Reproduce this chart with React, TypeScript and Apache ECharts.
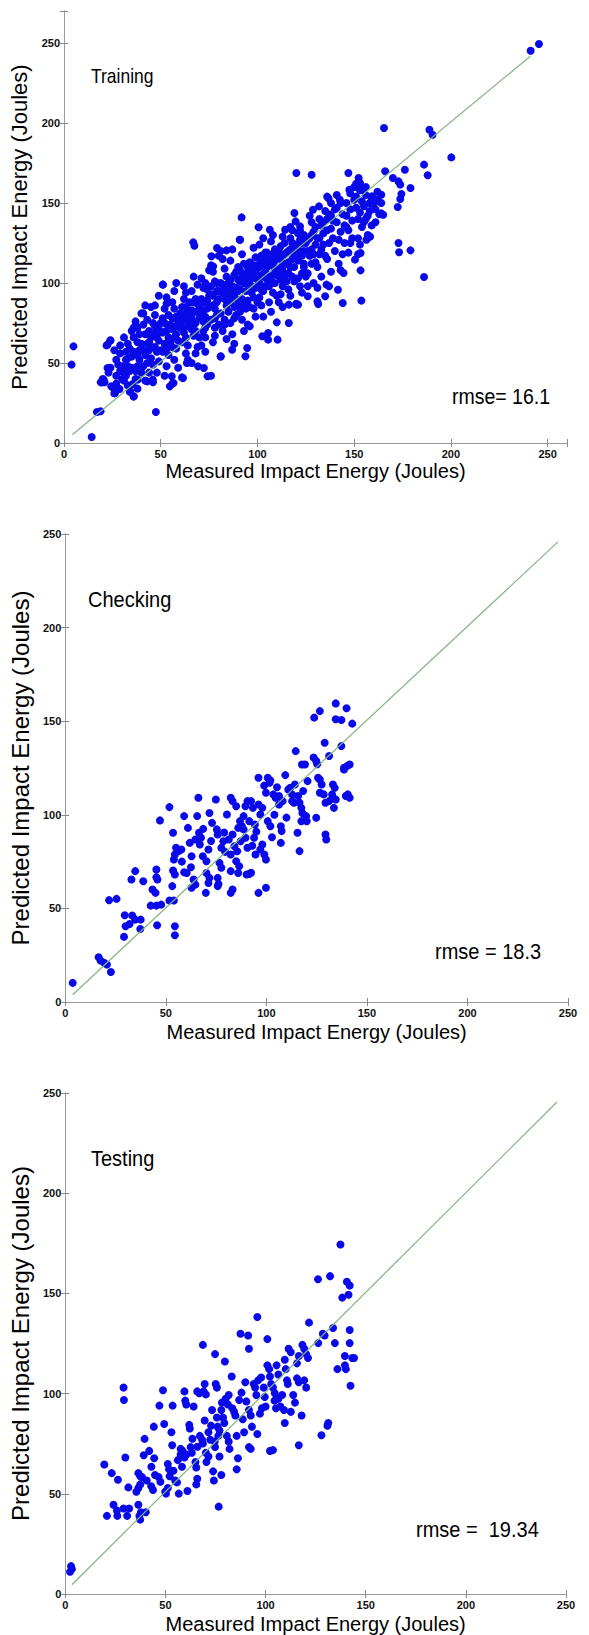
import React, { useEffect, useRef } from "react";
import * as echarts from "echarts";

const tickValues = [0, 50, 100, 150, 200, 250];
const panelNames = ["Training", "Checking", "Testing"];
const rmseLabels = ["rmse= 16.1", "rmse = 18.3", "rmse = \u00a019.34"];
const xTitle = "Measured Impact Energy (Joules)";
const yTitle = "Predicted Impact Energy (Joules)";
const axisMaxX = [260, 250, 250];
const axisMaxY = [270, 250, 250];

const trainingLine = [[4.3, 5.2], [241, 241.7]];
const checkingLine = [[3.7, 3.9], [245, 245.8]];
const testingLine = [[3.3, 4.6], [245.5, 245.5]];

const trainingPoints = [
  [245.5, 249.4], [241.2, 245.2], [165.4, 196.9], [188.9, 195.8], [190.5, 192.7], [200.2, 178.5],
  [186.1, 174], [188, 167.3], [176.2, 170.8], [166, 169.8], [120.1, 168.8], [128, 167.7], [147, 168.8],
  [152.3, 165.6], [153, 162.5], [170, 165.6], [172.9, 163.5], [173.8, 161.5], [179.1, 159.4],
  [174.4, 155.6], [173.8, 152.5], [172.5, 147.5], [164, 155.2], [165, 142.7], [164, 143.5],
  [172.9, 125], [173.2, 119.2], [179.1, 120.4], [186.1, 103.8], [153.3, 107.9], [153.7, 89],
  [144.1, 87.5], [135, 91.7], [131, 88.5], [131.4, 86.9], [126, 91.7], [116.2, 86.5], [120.1, 86.5],
  [121, 86.5], [110, 75.4], [110.4, 64.6], [105.5, 68.8], [105.5, 64.6], [91.8, 141], [100.6, 134.8],
  [66.8, 125.4], [67.4, 123.3], [51.2, 99], [79.1, 121.9], [84, 120.4], [76.2, 116.7], [77.1, 110.4],
  [90.8, 127], [119.1, 143.8], [119.7, 138.5], [3.9, 49], [4.9, 60.4], [14.3, 3.8], [17, 19.4],
  [18.9, 19.8], [47.5, 19.4], [24, 64.2], [22.5, 61.5], [20.5, 39.6], [19.5, 37.9], [22.5, 46.9],
  [24.4, 35.4], [28.7, 33.8], [26.4, 31.3], [34.2, 32.3], [36.1, 29.2], [35.5, 36.9], [38.1, 39.6],
  [43, 38.5], [45.9, 39.6], [69.3, 47.9], [74.2, 41.7], [55.7, 41.7], [61.5, 40.6], [54.7, 35.4],
  [56.6, 37.5], [81, 54.2], [93.8, 54.2], [94.7, 59.4], [106.4, 133.3], [114.3, 133.3], [122, 135.4],
  [128.7, 145.8], [131.8, 147.9], [136.7, 153], [142.6, 152], [147.5, 158.3], [154.3, 158.3],
  [159.2, 154.2], [161.1, 151], [135.7, 99], [141.6, 95.8], [144.5, 106.3], [150.4, 114.6],
  [153.3, 118.8], [156.3, 127], [158.2, 129], [116.2, 75], [102.5, 66.7], [86.9, 58.3], [63.5, 50],
  [72.3, 46.9],
  [21, 38], [23, 44], [24, 64], [22, 61], [20, 40], [19, 38], [25, 35], [24, 47],
  [26, 31], [27, 42], [28, 34], [29, 45], [27, 52], [26, 58], [29, 61], [28, 49], [30, 40], [27, 37], [29, 56],
  [31, 44], [32, 52], [33, 36], [34, 32], [31, 66], [32, 57], [33, 48], [34, 59], [35, 70], [33, 62], [31, 39],
  [34, 45], [35, 54], [32, 42],
  [36, 29], [36, 72], [37, 45], [38, 63], [39, 52], [36, 57], [37, 40], [38, 34], [39, 68], [40, 81], [37, 76],
  [38, 48], [39, 58], [40, 44], [36, 66], [38, 72],
  [41, 81], [42, 55], [43, 62], [44, 70], [41, 48], [42, 39], [43, 50], [44, 58], [45, 66], [41, 74], [42, 86],
  [44, 44], [45, 53], [43, 77], [45, 85],
  [46, 38], [47, 60], [48, 71], [49, 51], [46, 68], [47, 80], [48, 57], [49, 64], [50, 75], [46, 49], [47, 86],
  [48, 44], [50, 58], [49, 92], [47, 73],
  [51, 99], [52, 62], [53, 70], [54, 55], [51, 78], [52, 84], [53, 48], [54, 66], [55, 74], [51, 57], [52, 42],
  [53, 91], [55, 63], [54, 80], [51, 69], [53, 87],
  [56, 37], [57, 52], [58, 68], [59, 76], [56, 88], [57, 95], [58, 59], [59, 64], [60, 81], [56, 71], [57, 84],
  [58, 100], [59, 47], [60, 72], [56, 60], [58, 79],
  [61, 41], [62, 98], [63, 66], [64, 73], [61, 85], [62, 90], [63, 56], [64, 61], [65, 80], [61, 76], [62, 69],
  [63, 94], [64, 52], [65, 88], [61, 63], [64, 83],
  [66, 50], [67, 74], [68, 82], [69, 60], [66, 95], [67, 67], [68, 90], [69, 87], [70, 78], [66, 71], [67, 104],
  [68, 56], [69, 99], [70, 66], [66, 83], [68, 75],
  [71, 61], [72, 88], [73, 79], [74, 96], [71, 103], [72, 70], [73, 66], [74, 84], [75, 92], [71, 81], [72, 97],
  [73, 57], [74, 74], [75, 108], [72, 76], [73, 100],
  [76, 42], [77, 86], [78, 72], [79, 95], [76, 111], [77, 63], [78, 101], [79, 80], [80, 90], [76, 77], [77, 107],
  [78, 67], [79, 88], [80, 117], [76, 93], [78, 84],
  [81, 54], [82, 94], [83, 77], [84, 86], [81, 100], [82, 70], [83, 109], [84, 65], [85, 92], [81, 81], [82, 115],
  [83, 74], [84, 104], [85, 82], [81, 120], [83, 97],
  [86, 75], [87, 98], [88, 85], [89, 107], [86, 114], [87, 68], [88, 92], [89, 80], [90, 102], [86, 88], [87, 121],
  [88, 62], [89, 97], [90, 110], [86, 95], [88, 78], [90, 86],
  [91, 127], [92, 90], [93, 100], [94, 84], [91, 108], [92, 77], [93, 112], [94, 95], [95, 104], [91, 82], [92, 118],
  [93, 70], [94, 106], [95, 89], [91, 96], [93, 86], [95, 74],
  [96, 99], [97, 108], [98, 91], [99, 116], [96, 85], [97, 103], [98, 122], [99, 79], [100, 111], [96, 113], [97, 94],
  [98, 104], [99, 97], [100, 88], [96, 73], [98, 84],
  [101, 100], [102, 117], [103, 95], [104, 107], [101, 124], [102, 86], [103, 112], [104, 98], [105, 119], [101, 91],
  [102, 105], [103, 79], [104, 114], [105, 102], [101, 110], [103, 128],
  [106, 98], [107, 113], [108, 105], [109, 121], [106, 88], [107, 126], [108, 94], [109, 109], [110, 116], [106, 104],
  [107, 82], [108, 118], [109, 100], [110, 92], [106, 111], [108, 130],
  [111, 106], [112, 123], [113, 98], [114, 112], [111, 117], [112, 93], [113, 129], [114, 104], [115, 119], [111, 88],
  [112, 110], [113, 85], [114, 125], [115, 101], [112, 102],
  [116, 113], [117, 128], [118, 104], [119, 118], [116, 96], [117, 121], [118, 133], [119, 110], [120, 124], [116, 106],
  [117, 92], [118, 115], [119, 101], [120, 87], [117, 135],
  [121, 114], [122, 127], [123, 106], [124, 120], [121, 131], [122, 98], [123, 117], [124, 110], [125, 125], [121, 103],
  [122, 133], [123, 94], [124, 112], [125, 104],
  [126, 120], [127, 128], [128, 112], [129, 132], [126, 106], [127, 117], [128, 138], [129, 100], [130, 124], [126, 98],
  [128, 121], [130, 113], [127, 142],
  [131, 128], [132, 118], [133, 136], [134, 124], [131, 110], [132, 140], [133, 104], [134, 131], [135, 117], [131, 97],
  [133, 121], [135, 145],
  [136, 133], [137, 125], [138, 150], [139, 139], [136, 115], [137, 143], [138, 107], [139, 128], [140, 120], [136, 154],
  [138, 134], [140, 146], [137, 98],
  [141, 138], [142, 127], [143, 150], [144, 118], [141, 147], [142, 112], [143, 132], [144, 143], [145, 125], [141, 155],
  [143, 108], [145, 136],
  [146, 142], [147, 133], [148, 156], [149, 128], [146, 150], [147, 119], [148, 146], [149, 139], [150, 152], [146, 135],
  [148, 125], [150, 160],
  [151, 147], [152, 140], [153, 158], [154, 135], [151, 154], [152, 128], [153, 144], [154, 151], [155, 138], [151, 162],
  [153, 124], [155, 148], [152, 118],
  [156, 155], [157, 142], [158, 150], [159, 136], [156, 160], [157, 130], [158, 145], [159, 153], [160, 149], [156, 140],
  [158, 129],
  [161, 146], [162, 152], [163, 143], [161, 138], [164, 150], [162, 157],
  [30, 48], [33, 53], [35, 47], [38, 55], [40, 62], [42, 68], [44, 63], [46, 75], [48, 66], [50, 70], [52, 75],
  [54, 72], [56, 78], [58, 73], [60, 77], [57, 66], [53, 59], [49, 69], [45, 60], [41, 58],
  [62, 80], [63, 85], [65, 75], [66, 78], [67, 88], [69, 82], [70, 86], [71, 90], [72, 83], [74, 89], [75, 85],
  [76, 98], [77, 92], [79, 100], [80, 95], [82, 99], [83, 90], [84, 95], [85, 100], [86, 102], [87, 91], [88, 105],
  [89, 90], [90, 95], [61, 72], [64, 77], [68, 70], [73, 72], [78, 78], [80, 74],
  [91, 101], [92, 104], [94, 100], [95, 110], [96, 106], [97, 98], [98, 111], [99, 107], [100, 102], [101, 115],
  [102, 96], [103, 104], [104, 119], [105, 110], [106, 117], [107, 101], [108, 111], [109, 114], [110, 105],
  [111, 121], [112, 115], [113, 108], [114, 118], [115, 112], [116, 120], [117, 110], [118, 125], [119, 122],
  [120, 116], [122, 120], [123, 125], [124, 130], [126, 127], [128, 130], [129, 118], [130, 135], [132, 128],
  [134, 138], [136, 140], [138, 142],
];

const checkingPoints = [
  [3.7, 10.2], [16.6, 23.9], [17.6, 22.1], [19.4, 20.9], [20.7, 20], [22.7, 16], [21.8, 54.4], [25.5, 55.1],
  [29.6, 46.3], [33.3, 46.2], [34.8, 44], [30, 40.5], [32, 41.7], [29.2, 34.9], [37.5, 44], [37.3, 39],
  [32.9, 65.4], [34.8, 69.9], [38.8, 64.5], [43.4, 60.1], [44.9, 58.3], [42.5, 51.5], [45.3, 51.5], [47.7, 52],
  [45.7, 41], [45.3, 70.8], [45.3, 66.7], [45.8, 65.4], [47.1, 97], [51.8, 104.1], [53.6, 90.4], [54.5, 78.8],
  [54, 76.1], [55.1, 82.4], [51.8, 54.2], [54, 54.2], [54.5, 40.5], [54.5, 35.7], [53.2, 61.9], [54.5, 68.1],
  [53.6, 70.2], [56.4, 80.6], [57.7, 81.5], [59.1, 99.3], [61, 93], [61.9, 85], [62.8, 77.9], [60.4, 68.9],
  [59.1, 69.3], [63.8, 65.4], [62.8, 61], [64.7, 62.7], [66.2, 109.1], [65.6, 99.3], [66.5, 90.4], [67.5, 87.7],
  [64.7, 86.8], [66.9, 84.1], [68.4, 77.9], [70.2, 75.2], [71.2, 81.5], [70.2, 68.9], [71.7, 66.3], [71.2, 63.6],
  [69.9, 58.3], [71.7, 101], [73, 95.7], [74.9, 108.2], [75.8, 89.5], [75.4, 92.2], [76.7, 74.3], [77.6, 71.7],
  [75.8, 66.3], [76.2, 63.1], [75.8, 61.9], [77.6, 82.4], [78.6, 85.9], [79.5, 80.2], [80.4, 100.2], [82.3, 109.1],
  [83.2, 107.3], [81.3, 86.8], [82.3, 78.8], [83.2, 89.5], [84.1, 83.2], [82.3, 69.9], [83.2, 60.1], [82.3, 58.3],
  [85, 104.6], [86, 93], [86.9, 96.6], [87.2, 85.9], [85, 75.2], [86.5, 72.5], [86, 68.9], [88.7, 99.3],
  [89.6, 104.6], [90.6, 107.3], [91.5, 96.6], [88.7, 92.2], [89.6, 87.7], [90.6, 82.4], [90.2, 68.1], [92.4, 69],
  [91.5, 68.4], [92.4, 107.3], [93.3, 103.7], [94.3, 94.8], [93.9, 87.7], [94.6, 78.8], [96.1, 119.8], [96.1, 105.5],
  [97, 100.2], [98, 103.7], [96.1, 58.3], [97, 81.5], [98, 84.1], [99, 78.8], [99.8, 61], [98.9, 115.6],
  [99.8, 111.8], [101.6, 117.1], [100.7, 96.6], [102, 93.9], [99.8, 76.1], [100.7, 119.8], [102, 118.4],
  [103.5, 110.9], [104.6, 109.1], [105.3, 114.7], [106.3, 110], [107.2, 93.9], [107.6, 91.3], [107.2, 85],
  [106.3, 105.5], [108.1, 107.3], [109.4, 121.2], [110.9, 113.5], [111.8, 114.4], [112.8, 110.9], [112.8, 107.3],
  [113.7, 106.4], [114.2, 116.2], [114.6, 134], [115.5, 90.4], [116.5, 80.6], [117.4, 96.6], [116.5, 106.4],
  [117.4, 103.7], [117.9, 101], [118.3, 112.7], [117.7, 126.9], [119.2, 126.9], [120.1, 96.6], [119.8, 99.3],
  [123.5, 130.6], [124.8, 128.8], [124.8, 98.4], [125.7, 119.8], [126.6, 118.9], [127.5, 116.2], [126.6, 111.8],
  [128.5, 110.9], [125.3, 127], [123.8, 151.9], [126.6, 155.4], [129, 138.5], [129.4, 89.5], [129.8, 86.8],
  [129.4, 106.4], [131.2, 107.3], [133.1, 109.1], [134.5, 108.2], [133.6, 103.7], [132.7, 110.9], [131.2, 131.4],
  [133.1, 116.2], [134, 114.4], [134.5, 159.5], [134.5, 151], [137.3, 150.6], [137.3, 136.7], [139.9, 156.9],
  [142.7, 148.7], [138.6, 125.1], [140.1, 126], [141.4, 126.9], [138.6, 124.2], [139.5, 110], [141.4, 109.1],
  [140.5, 110.9], [87.8, 94], [79, 90.5], [72.5, 86], [68.6, 92.5], [85.5, 80.5], [95, 91], [104, 100],
  [110, 98.5], [115.8, 110], [120.5, 118], [62.5, 72], [58, 75], [102.8, 88], [93, 83.5],
];

const testingPoints = [
  [2.9, 13.9], [3.3, 12.4], [2.4, 11.1], [19.5, 64.6], [20.8, 39], [23.2, 60.3], [24.1, 44.5], [25.8, 41.7],
  [26, 39], [26.3, 57], [29.1, 103], [29.3, 96.8], [30, 68.1], [29.1, 42.7], [30.9, 39], [31.9, 42.7],
  [31.5, 53.2], [36.5, 44.5], [37.4, 37.1], [37, 39], [37.8, 40.8], [35.5, 51], [36.5, 52.9], [37.4, 54.7],
  [36.5, 60.3], [37.4, 58.8], [38.3, 58.4], [39.2, 69.2], [39.6, 77.4], [40.2, 40.8], [40.7, 56.6], [41.9, 71.4],
  [42.9, 53.8], [43.8, 51.9], [44.2, 83.5], [44.4, 67.7], [44.8, 59.4], [46.6, 58.4], [47, 94], [48.8, 101.7],
  [49.4, 84.8], [49.9, 51], [50.3, 50.1], [51.2, 52.9], [51.2, 64.9], [51.8, 62.2], [52.1, 58.8], [53, 80.7],
  [53.4, 74.2], [53.6, 94], [54.9, 56.6], [55.8, 55.7], [56.7, 50.1], [56.2, 66.8], [57.6, 72.4], [58.6, 71.4],
  [57.6, 69.6], [59.5, 68.1], [60.4, 69.6], [59.5, 101.1], [59.9, 96.5], [60.4, 94.6], [61, 51.4], [61.9, 84.4],
  [62.2, 82.6], [62.6, 73.3], [63.2, 70.5], [64.1, 93.6], [65, 65.9], [65.4, 63.1], [65.9, 57.5], [65.4, 54.7],
  [65.9, 101.1], [66.9, 100.2], [67.2, 78.9], [68.3, 77], [68.7, 75.1], [68.7, 124.3], [69.1, 101.1],
  [69.6, 104.8], [70.2, 99.6], [69.6, 86.6], [70.2, 70.5], [70.5, 65.9], [71.5, 68.6], [71.5, 80.7], [72.4, 77],
  [73.3, 91.8], [73.8, 61.2], [74.2, 56.6], [74.6, 76.1], [74.8, 73.3], [74.8, 119.7], [75.1, 104.8],
  [75.7, 103], [75.7, 88.1], [76.1, 83.5], [76.4, 78.9], [77, 81.6], [76.6, 43.6], [77, 68.6], [77.9, 59.4],
  [77.9, 91.8], [78.8, 88.1], [79.4, 85.3], [79.7, 116], [80.1, 97.4], [81.2, 94.6], [81.6, 99.3], [80.7, 78.9],
  [81.6, 76.1], [82, 72.4], [83.1, 108.5], [83.4, 92.7], [84.3, 90.9], [84.9, 89.1], [85.6, 78.9], [86.2, 67.7],
  [85.6, 62.2], [87.5, 129.9], [88.6, 87.2], [89.3, 80.7], [89.9, 105.7], [90.4, 96.1], [91.3, 129], [91.7, 122.4],
  [91.7, 73.3], [92.6, 72.4], [91.7, 91.8], [92.6, 89.1], [93.2, 83.5], [94.1, 104.8], [94.8, 103], [95.4, 99.3],
  [95.9, 138.2], [95.9, 79.8], [96.3, 106.6], [97.2, 90], [98.2, 92.7], [99.1, 103], [99.6, 98.3], [100, 93.6],
  [100.9, 127.2], [100.9, 114.1], [101.8, 112.2], [102.2, 108.5], [102.2, 71.4], [103.7, 71.8], [102.8, 104.8],
  [103.7, 103], [104.6, 100.2], [105.2, 92.7], [105.5, 114.1], [106.4, 109.5], [106.4, 97.4], [107.4, 93.6],
  [108.3, 99.3], [109.2, 91.8], [109.6, 85.3], [109.6, 116.9], [110.1, 112.2], [110.7, 106.6], [111.1, 104.8],
  [111.5, 122.4], [112.6, 120.6], [112.6, 90.9], [113.8, 99.3], [114.7, 95.5], [115.7, 115.1], [116.6, 118.8],
  [115.7, 107.6], [116.6, 105.7], [116.6, 74.2], [118, 89.1], [118.4, 124.3], [119.3, 122.4], [120.3, 119.7],
  [119.3, 106.6], [120.3, 103], [121.7, 135.4], [121.2, 117.8], [126.3, 125.2], [126.2, 157.1], [127.9, 79.2],
  [128.6, 129.9], [129.5, 129], [130.9, 84], [131.3, 85.3], [132.2, 158.6], [133.7, 132.7], [134.6, 125.2],
  [135.9, 112.2], [137.4, 174.4], [138.3, 147.9], [139.6, 118.8], [139.6, 114.1], [140.1, 112.2], [140.6, 155.8],
  [142, 153.9], [141.4, 149.3], [142, 131.7], [142, 125.2], [143.3, 117.8], [144.2, 117.8], [142.4, 103.9],
  [63.5, 77.5], [66, 73.5], [72.8, 84], [78.2, 95.5], [86.8, 96.8], [88, 100.5], [97.8, 108], [104.5, 96.5],
  [58.3, 63.5], [54, 61.5], [47.5, 56], [43, 63.5],
];

const FONT = "'Liberation Sans', Arial, sans-serif";
const grids = [
  { left: 64, top: 11, width: 503, height: 432 },
  { left: 61, top: 534, width: 507, height: 468 },
  { left: 59, top: 1093, width: 507, height: 503 },
];
const yTitleSize = [22, 24, 24];
const nameLabelPos = [
  { name: [91, 77, 17.5], rmse: [452, 397, 19.5] },
  { name: [88, 600, 20], rmse: [435, 952, 20] },
  { name: [91, 1159, 20], rmse: [416, 1530, 20] },
];

export default function App() {
  const ref = useRef<HTMLDivElement>(null);
  useEffect(() => {
    if (!ref.current) return;
    const chart = echarts.init(ref.current, null, { renderer: "svg" });
    const pointSets = [trainingPoints, checkingPoints, testingPoints];
    const lines = [trainingLine, checkingLine, testingLine];
    const fmt = (v: number) => (tickValues.includes(v) ? String(v) : "");
    const tickStyle = { inside: true, length: 4, lineStyle: { color: "#8a8a8a", width: 1 } };
    const lineStyle = { show: true, lineStyle: { color: "#9a9a9a", width: 1 } };
    const labelStyle = { fontSize: 11, fontWeight: "bold" as const, color: "#111", fontFamily: FONT };
    const xAxes: any[] = [];
    const yAxes: any[] = [];
    const series: any[] = [];
    const graphics: any[] = [];
    for (let i = 0; i < 3; i++) {
      xAxes.push({
        gridIndex: i, type: "value", min: 0, max: axisMaxX[i], interval: 50, position: "bottom",
        axisLine: lineStyle, axisTick: tickStyle, splitLine: { show: false },
        axisLabel: { ...labelStyle, margin: 5, formatter: fmt },
        name: xTitle, nameLocation: "middle", nameGap: i === 0 ? 18 : 20,
        nameTextStyle: { fontSize: 20, color: "#000", fontFamily: FONT },
      });
      xAxes.push({
        gridIndex: i, type: "value", min: 0, max: axisMaxX[i], interval: 50, position: "top",
        axisLine: lineStyle, axisTick: tickStyle, splitLine: { show: false }, axisLabel: { show: false },
      });
      yAxes.push({
        gridIndex: i, type: "value", min: 0, max: axisMaxY[i], interval: 50, position: "left",
        axisLine: lineStyle, axisTick: tickStyle, splitLine: { show: false },
        axisLabel: { ...labelStyle, margin: 4, formatter: fmt },
        name: yTitle, nameLocation: "middle", nameGap: i === 0 ? 25 : 24,
        nameTextStyle: { fontSize: yTitleSize[i], color: "#000", fontFamily: FONT },
      });
      yAxes.push({
        gridIndex: i, type: "value", min: 0, max: axisMaxY[i], interval: 50, position: "right",
        axisLine: lineStyle, axisTick: tickStyle, splitLine: { show: false }, axisLabel: { show: false },
      });
      series.push({
        type: "scatter", xAxisIndex: 2 * i, yAxisIndex: 2 * i, data: pointSets[i],
        symbol: "circle", symbolSize: 8, itemStyle: { color: "#0a0ae8", opacity: 1 },
      });
      series.push({
        type: "line", xAxisIndex: 2 * i, yAxisIndex: 2 * i, data: lines[i], showSymbol: false,
        lineStyle: { color: "#7fb57f", width: 1.2 }, z: 3,
      });
      const p = nameLabelPos[i];
      graphics.push({
        type: "text", left: p.name[0], top: p.name[1] - p.name[2] * 0.6,
        scaleY: 1.12,
        style: { text: panelNames[i], fontSize: p.name[2], fill: "#000", fontFamily: FONT },
      });
      graphics.push({
        type: "text", left: p.rmse[0], top: p.rmse[1] - p.rmse[2] * 0.6,
        scaleY: 1.12,
        style: { text: rmseLabels[i], fontSize: p.rmse[2], fill: "#000", fontFamily: FONT },
      });
    }
    chart.setOption({
      animation: false,
      backgroundColor: "#ffffff",
      grid: grids,
      xAxis: xAxes,
      yAxis: yAxes,
      series,
      graphic: graphics,
    });
    return () => chart.dispose();
  }, []);
  return (
    <div
      ref={ref}
      style={{ position: "absolute", left: 0, top: 0, width: 589, height: 1635, background: "#fff" }}
    />
  );
}
